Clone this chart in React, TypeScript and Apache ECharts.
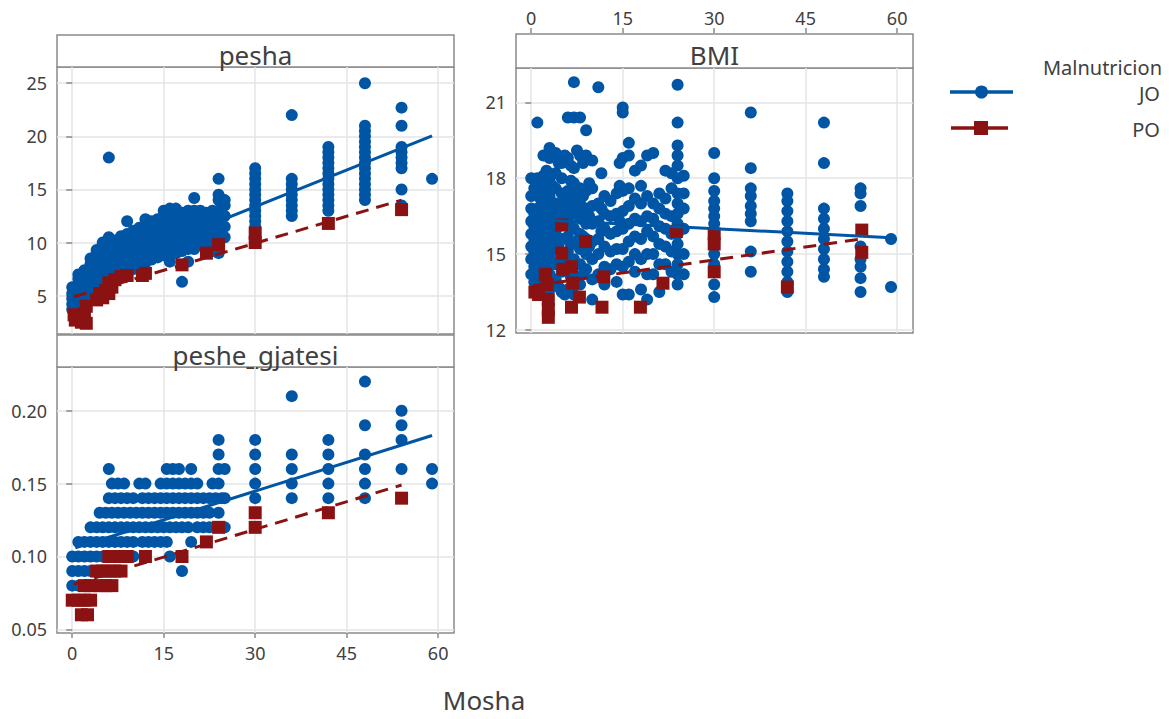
import React, { useEffect, useRef } from "react";
import * as echarts from "echarts";

// ---------- categories / ticks ----------
const GROUPS = ["JO", "PO"];
const LEGEND_TITLE = "Malnutricion";
const X_TITLE = "Mosha";
const PANEL_TITLES = ["pesha", "peshe_gjatesi", "BMI"];
const AGE_TICKS = [0, 15, 30, 45, 60];
const PESHA_TICKS = [5, 10, 15, 20, 25];
const PG_TICKS = [0.05, 0.1, 0.15, 0.2];
const BMI_TICKS = [12, 15, 18, 21];

// ---------- pesha: [age, weights[]] ----------
const peshaJO: [number, number[]][] = [
  [0, [3.7, 4.2, 4.7, 5.2, 5.8]],
  [1, [4.2, 4.8, 5.4, 6, 6.6, 7]],
  [2, [4.6, 5.2, 5.8, 6.4, 7, 7.4]],
  [3, [5, 5.6, 6.2, 6.8, 7.4, 8, 8.5]],
  [4, [5.4, 6, 6.6, 7.2, 7.8, 8.4, 9, 9.3]],
  [5, [5.8, 6.4, 7, 7.6, 8.2, 8.8, 9.4, 10]],
  [6, [6.2, 6.8, 7.4, 8, 8.6, 9.2, 9.8, 10.5, 18]],
  [7, [6.6, 7.2, 7.8, 8.4, 9, 9.6, 10.2]],
  [8, [7, 7.6, 8.2, 8.8, 9.4, 10, 10.6]],
  [9, [7.2, 7.8, 8.4, 9, 9.6, 10.2, 10.8, 12]],
  [10, [7.5, 8.1, 8.7, 9.3, 9.9, 10.5, 11.1]],
  [11, [7.8, 8.4, 9, 9.6, 10.2, 10.8, 11.4]],
  [12, [8.1, 8.7, 9.3, 9.9, 10.5, 11.1, 11.7, 12.2]],
  [13, [8.4, 9, 9.6, 10.2, 10.8, 11.4, 12]],
  [14, [8.6, 9.2, 9.8, 10.4, 11, 11.6, 12.2]],
  [15, [8.8, 9.4, 10, 10.6, 11.2, 11.8, 12.4, 13]],
  [16, [8.2, 9.2, 9.8, 10.4, 11, 11.6, 12.2, 12.8, 13.2]],
  [17, [9, 9.6, 10.2, 10.8, 11.4, 12, 12.6, 13.2]],
  [18, [6.3, 9.2, 9.8, 10.4, 11, 11.6, 12.2, 12.8]],
  [19, [8.2, 9.4, 10, 10.6, 11.2, 11.8, 12.4, 13]],
  [20, [9.4, 10, 10.6, 11.2, 11.8, 12.4, 13, 14.2]],
  [21, [10, 10.6, 11.2, 11.8, 12.4, 13]],
  [22, [9.8, 10.4, 11, 11.6, 12.2, 12.8]],
  [23, [9.2, 10.2, 10.8, 11.4, 12, 13]],
  [24, [9, 9.5, 10, 10.5, 11, 11.5, 12, 12.5, 13, 14, 14.5, 16]],
  [25, [10.5, 11.5, 12.5, 13.5, 14]],
  [30, [11.5, 12, 12.5, 13, 13.5, 14, 14.5, 15, 15.5, 16, 16.5, 17]],
  [36, [12.5, 13, 13.5, 14, 14.5, 15, 15.5, 16, 22]],
  [42, [13, 13.5, 14, 14.5, 15, 15.5, 16, 16.5, 17, 17.5, 18, 18.5, 19]],
  [48, [14, 14.5, 15, 15.5, 16, 16.5, 17, 17.5, 18, 18.5, 19, 19.5, 20, 20.5, 21, 25]],
  [54, [13.5, 15, 17, 17.5, 18, 18.5, 19, 21, 22.7]],
  [59, [16]],
];
const peshaPO: [number, number][] = [
  [0.3, 3.2], [0.5, 2.7], [1, 3], [1.5, 2.5], [2, 3.3], [2.3, 4], [2.3, 2.4],
  [4, 4.6], [4.5, 5.2], [5, 4.8], [5.5, 5.5], [6, 5.2], [6, 6.2], [6.5, 5.8],
  [7, 6.5], [8, 6.8], [9, 6.9], [11.5, 6.9], [12, 7.1], [18, 7.9], [22, 9],
  [24, 9.8], [30, 10], [30, 10.9], [42, 11.8], [54, 13.1],
];
const peshaFitJO: [number, number][] = [[0.5, 6.6], [59, 20.05]];
const peshaFitPO: [number, number][] = [[0.3, 4.9], [54, 14.0]];

// ---------- peshe_gjatesi: [value, ages[]] ----------
const pgJO: [number, number[]][] = [
  [0.22, [48]],
  [0.21, [36]],
  [0.2, [54]],
  [0.19, [48, 54]],
  [0.18, [24, 30, 42, 54]],
  [0.17, [24, 30, 36, 42, 48]],
  [0.16, [6, 15.5, 16.5, 17.5, 19.5, 24, 25, 30, 36, 42, 48, 54, 59]],
  [0.15, [6.5, 7.5, 8.5, 11, 12, 14.5, 15.5, 16.5, 17.5, 18.5, 19.5, 20.5, 23, 24, 30, 36, 42, 48, 59]],
  [0.14, [6, 7, 8, 9, 10, 11.5, 12.5, 13.5, 14.5, 15.5, 16.5, 17.5, 18.5, 19.5, 20.5, 21.5, 22.5, 23.5, 24.5, 25, 30, 36, 42, 48]],
  [0.13, [4.5, 5.5, 6.5, 7.5, 8.5, 9.5, 10.5, 11.5, 12.5, 13.5, 14.5, 15.5, 16.5, 17.5, 18.5, 19.5, 20.5, 21.5, 22.5, 24]],
  [0.12, [3, 4, 5, 6, 7, 8, 9, 10, 11, 12, 13, 14, 15, 16, 17, 18, 19, 20.5, 21.5, 22.5, 25]],
  [0.11, [1, 2, 3, 4, 5, 6, 7, 8, 9, 10, 11.5, 12.5, 13.5, 14.5, 15.5, 19.5]],
  [0.1, [0, 1, 2, 3, 4, 5, 10, 16]],
  [0.09, [0, 1, 2, 3, 18]],
  [0.08, [0, 1]],
];
const pgPO: [number, number[]][] = [
  [0.14, [54]],
  [0.13, [30, 42]],
  [0.12, [24, 30]],
  [0.11, [22]],
  [0.1, [6, 7, 8, 9, 12, 18]],
  [0.09, [4, 5, 6, 7, 8]],
  [0.08, [2, 3, 4.5, 5.5, 6.5]],
  [0.07, [0, 1, 2, 3]],
  [0.06, [1.5, 2.5]],
];
const pgFitJO: [number, number][] = [[0.5, 0.106], [59, 0.183]];
const pgFitPO: [number, number][] = [[0.3, 0.081], [54, 0.149]];

// ---------- BMI: [age, bmi[]] ----------
const bmiJO: [number, number[]][] = [
  [0, [14.2, 14.8, 15.3, 15.8, 16.3, 16.8, 17.3, 18]],
  [0.5, [13.9, 14.5, 15.1, 15.6, 16.1, 16.6, 17.6]],
  [1, [13.6, 14.4, 15, 15.6, 16.2, 16.8, 17.4, 18, 20.2]],
  [1.5, [14.1, 14.7, 15.4, 16, 16.6, 17.2, 17.8]],
  [2, [13.8, 14.5, 15.1, 15.7, 16.3, 16.9, 17.5, 18.1, 18.9]],
  [2.5, [14.3, 14.9, 15.5, 16.5, 17.1, 18.3]],
  [3, [13.6, 14.2, 14.9, 15.5, 16.1, 16.7, 17.3, 17.9, 18.8, 19.2]],
  [3.5, [14.6, 15.3, 15.9, 16.6, 17.7]],
  [4, [14, 14.6, 15.2, 15.8, 16.4, 17, 17.6, 18.2, 19]],
  [4.5, [13.7, 15.4, 16.1, 16.9, 18.6]],
  [5, [13.5, 14.3, 15, 15.6, 16.2, 16.8, 17.4, 18, 18.6]],
  [5.5, [13.4, 14.8, 16.5, 17.2, 18.9]],
  [6, [13.6, 14.5, 15.1, 15.7, 16.3, 16.9, 17.5, 18.8, 20.4]],
  [6.5, [14.1, 15.4, 16.6, 17.9, 18.5]],
  [7, [13.4, 14.2, 14.8, 15.4, 16, 16.6, 17.2, 17.8, 18.4, 20.4, 21.8]],
  [7.5, [13.9, 15.5, 16.9, 17.5, 19.1]],
  [8, [13.8, 14.6, 15.2, 15.8, 16.4, 17, 17.6, 18.9, 20.4]],
  [8.5, [14.2, 15.7, 16.7, 17.3, 18.6]],
  [9, [14.4, 15, 15.6, 16.2, 16.8, 17.5, 18.9, 19.9]],
  [9.5, [15.3, 16.5, 17.8]],
  [10, [13.2, 14, 14.8, 15.5, 16.2, 16.9, 17.6, 18.7]],
  [11, [14.2, 15, 15.6, 16.3, 17, 21.6]],
  [11.5, [15.9, 16.8, 18.2]],
  [12, [13.8, 14.5, 15.3, 16, 16.6, 17.3]],
  [13, [14.4, 15.1, 15.8, 16.5, 17.1]],
  [14, [13.9, 14.6, 15.2, 15.9, 16.6, 17.4]],
  [14.5, [16.3, 17.7, 18.6]],
  [15, [13.4, 14.5, 15.2, 16, 16.7, 17.5, 18.8, 20.6, 20.8]],
  [16, [13.4, 14.7, 15.5, 16.2, 16.9, 17.6, 18.9, 19.4]],
  [17, [14.3, 15, 15.7, 16.4, 17.2, 18.3]],
  [18, [13.6, 14.8, 15.6, 16.3, 17, 17.7, 18.5]],
  [19, [13.2, 14.2, 15, 15.9, 16.5, 17.3, 18.9]],
  [20, [14.2, 15, 15.7, 16.4, 17, 19]],
  [21, [13.5, 14.6, 15.4, 16.1, 16.8, 17.4]],
  [22, [14.6, 15.3, 16, 16.6, 17.2, 18.3]],
  [23, [14.3, 15.1, 15.8, 16.5, 17.6, 18.2]],
  [24, [13.8, 14.2, 14.6, 15, 15.4, 15.8, 16.2, 16.6, 17, 17.4, 18, 18.5, 18.9, 19.3, 20.2, 21.7]],
  [25, [14.2, 15, 16, 16.8, 17.4, 18.1]],
  [30, [13.3, 13.8, 14.6, 15, 15.4, 15.8, 16.2, 16.5, 16.8, 17.1, 17.5, 18, 19]],
  [36, [14.3, 15.1, 16.3, 16.6, 16.9, 17.3, 17.6, 18.4, 20.6]],
  [42, [13.5, 13.9, 14.3, 14.7, 15.1, 15.5, 15.9, 16.3, 16.7, 17.1, 17.4]],
  [48, [14.1, 14.4, 14.8, 15.2, 15.6, 16, 16.4, 16.8, 18.6, 20.2]],
  [54, [13.5, 14.05, 14.5, 14.8, 15.3, 16.9, 17.4, 17.6]],
  [59, [13.7, 15.6]],
];
const bmiPO: [number, number][] = [
  [0.6, 13.5], [1.2, 13.4], [2.3, 14.2], [2.6, 13.8], [2.8, 13.2], [2.8, 12.8], [2.8, 12.5],
  [5, 16.15], [5, 15.04], [5.2, 14.4], [6.6, 14.5], [6.8, 13.85], [7.9, 13.3], [6.6, 12.9],
  [8.9, 15.5], [11.9, 14.1], [11.6, 12.9], [17.9, 12.9], [21.6, 13.85], [23.8, 15.9],
  [30, 15.8], [30, 15.4], [30, 14.3], [42, 13.7], [54.2, 15.95], [54.2, 15.07],
];
const bmiFitJO: [number, number][] = [[0.5, 16.37], [59, 15.65]];
const bmiFitPO: [number, number][] = [[0.3, 13.75], [54.2, 15.6]];

// ---------- helpers ----------
const byAge = (cols: [number, number[]][]) =>
  cols.flatMap(([a, vs]) => vs.map((v) => [a, v]));
const byValue = (rows: [number, number[]][]) =>
  rows.flatMap(([v, ages]) => ages.map((a) => [a, v]));

const C_JO = "#0055a5";
const C_PO = "#8b1212";
const TXT = "#404040";
const FRAME = "#8a8a8a";
const GRIDLINE = "#e4e4e4";
const FONT = "'Noto Sans', 'Open Sans', sans-serif";

export default function App() {
  const ref = useRef<HTMLDivElement>(null);
  useEffect(() => {
    if (!ref.current) return;
    const chart = echarts.init(ref.current, undefined, { renderer: "svg" });

    const grids = [
      { left: 57, top: 67, width: 397, height: 267 },
      { left: 57, top: 367, width: 397, height: 266 },
      { left: 516, top: 68, width: 397, height: 265 },
    ].map((g) => ({
      ...g,
      show: true,
      borderColor: FRAME,
      borderWidth: 1.5,
      backgroundColor: "#fff",
      containLabel: false,
      outerBoundsMode: "none",
    }));

    const xBase = (gi: number, showLabels: boolean, position: string, offset: number) => ({
      type: "value",
      gridIndex: gi,
      min: -2.5,
      max: 62.6,
      position,
      offset,
      axisLine: { show: false },
      axisTick: {
        show: showLabels,
        customValues: AGE_TICKS,
        length: 5,
        lineStyle: { color: FRAME, width: 1.5 },
      },
      axisLabel: {
        show: showLabels,
        customValues: AGE_TICKS,
        fontSize: 18,
        color: TXT,
        fontFamily: FONT,
        margin: position === "top" ? 6 : 11,
      },
      splitLine: { show: true, lineStyle: { color: GRIDLINE, width: 1.5 } },
    });

    const yBase = (gi: number, min: number, max: number, ticks: number[], fmt?: (v: number) => string) => ({
      type: "value",
      gridIndex: gi,
      min,
      max,
      axisLine: { show: false },
      axisTick: {
        show: true,
        customValues: ticks,
        length: 6,
        lineStyle: { color: FRAME, width: 1.5 },
      },
      axisLabel: {
        show: true,
        customValues: ticks,
        fontSize: 18,
        color: TXT,
        fontFamily: FONT,
        margin: 10,
        formatter: fmt ? (v: number) => fmt(v) : undefined,
      },
      splitLine: { show: true, lineStyle: { color: GRIDLINE, width: 1.5 } },
    });

    const panels = [
      { jo: byAge(peshaJO), po: peshaPO, fj: peshaFitJO, fp: peshaFitPO },
      { jo: byValue(pgJO), po: byValue(pgPO), fj: pgFitJO, fp: pgFitPO },
      { jo: byAge(bmiJO), po: bmiPO, fj: bmiFitJO, fp: bmiFitPO },
    ];

    const series: any[] = [];
    panels.forEach((p, i) => {
      series.push({
        type: "scatter", name: GROUPS[0], xAxisIndex: i, yAxisIndex: i,
        data: p.jo, symbol: "circle", symbolSize: 12,
        itemStyle: { color: C_JO, opacity: 1 }, z: 2,
      });
      series.push({
        type: "scatter", name: GROUPS[1], xAxisIndex: i, yAxisIndex: i,
        data: p.po, symbol: "rect", symbolSize: 13,
        itemStyle: { color: C_PO, opacity: 1 }, z: 3,
      });
      series.push({
        type: "line", name: GROUPS[0] + " fit", xAxisIndex: i, yAxisIndex: i,
        data: p.fj, symbol: "none", lineStyle: { color: C_JO, width: 3 }, z: 4,
      });
      series.push({
        type: "line", name: GROUPS[1] + " fit", xAxisIndex: i, yAxisIndex: i,
        data: p.fp, symbol: "none",
        lineStyle: { color: C_PO, width: 3, type: [13, 8] }, z: 4,
      });
    });

    const strip = (x: number, y: number, w: number, h: number, label: string) => ({
      type: "group",
      children: [
        {
          type: "rect",
          shape: { x, y, width: w, height: h },
          style: { fill: "#fff", stroke: FRAME, lineWidth: 1.5 },
        },
        {
          type: "text",
          x: x + w / 2,
          y: y + h / 2 + 4,
          style: {
            text: label, fill: TXT, fontSize: 26, fontFamily: FONT,
            align: "center", verticalAlign: "middle",
          },
        },
      ],
    });

    const option: any = {
      animation: false,
      backgroundColor: "#fff",
      grid: grids,
      xAxis: [xBase(0, false, "bottom", 0), xBase(1, true, "bottom", 0), xBase(2, true, "top", 35)],
      yAxis: [
        yBase(0, 1.39, 26.53, PESHA_TICKS),
        yBase(1, 0.0475, 0.23, PG_TICKS, (v) => v.toFixed(2)),
        yBase(2, 11.88, 22.36, BMI_TICKS),
      ],
      series,
      graphic: [
        strip(57, 35, 397, 32, PANEL_TITLES[0]),
        strip(57, 335, 397, 32, PANEL_TITLES[1]),
        strip(516, 34, 397, 34, PANEL_TITLES[2]),
        {
          type: "text", x: 484, y: 700,
          style: { text: X_TITLE, fill: TXT, fontSize: 26, fontFamily: FONT, align: "center", verticalAlign: "middle" },
        },
        {
          type: "text", x: 1162, y: 67,
          style: { text: LEGEND_TITLE, fill: TXT, fontSize: 20, fontFamily: FONT, align: "right", verticalAlign: "middle" },
        },
        { type: "line", shape: { x1: 950, y1: 92, x2: 1013, y2: 92 }, style: { stroke: C_JO, lineWidth: 3.5 } },
        { type: "circle", shape: { cx: 981.5, cy: 92, r: 6.5 }, style: { fill: C_JO } },
        {
          type: "text", x: 1160, y: 93,
          style: { text: GROUPS[0], fill: TXT, fontSize: 20, fontFamily: FONT, align: "right", verticalAlign: "middle" },
        },
        { type: "line", shape: { x1: 951, y1: 128, x2: 1008, y2: 128 }, style: { stroke: C_PO, lineWidth: 3.5 } },
        { type: "rect", shape: { x: 974, y: 121, width: 14, height: 14 }, style: { fill: C_PO } },
        {
          type: "text", x: 1160, y: 129,
          style: { text: GROUPS[1], fill: TXT, fontSize: 20, fontFamily: FONT, align: "right", verticalAlign: "middle" },
        },
      ],
    };

    chart.setOption(option);
    return () => chart.dispose();
  }, []);

  return (
    <div
      ref={ref}
      style={{ position: "absolute", left: 0, top: 0, width: 1169, height: 719 }}
    />
  );
}
